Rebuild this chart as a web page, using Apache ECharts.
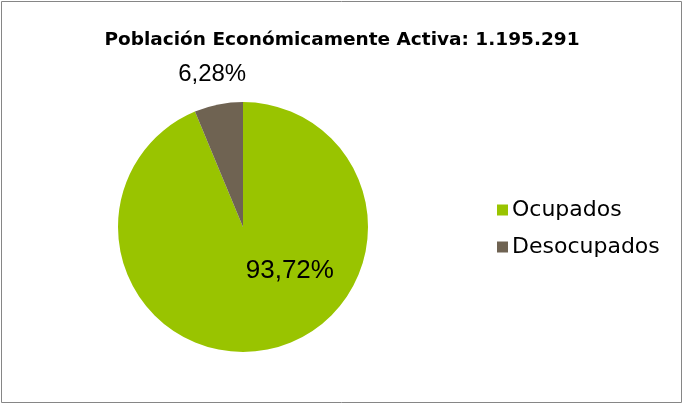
<!DOCTYPE html>
<html><head><meta charset="utf-8">
<script src="https://cdn.jsdelivr.net/npm/echarts@6/dist/echarts.min.js"></script>
<style>html,body{margin:0;padding:0;background:#fff}#c{width:684px;height:405px}</style>
</head><body><div id="c"></div>
<script>
const titleText = 'Población Económicamente Activa: 1.195.291';
const categories = ['Ocupados', 'Desocupados'];
const values = [93.72, 6.28];
const labels = ['93,72%', '6,28%'];
const colors = ['#99C400', '#6F6352'];

const chart = echarts.init(document.getElementById('c'), null, {renderer: 'canvas'});
chart.setOption({
  animation: false,
  graphic: [{type: 'rect', shape: {x: 1.5, y: 1.5, width: 680, height: 401}, style: {fill: 'none', stroke: '#868686', lineWidth: 1}, silent: true}],
  title: {
    text: titleText, left: 'center', top: 26,
    textStyle: {fontFamily: 'DejaVu Sans', fontWeight: 'bold', fontSize: 18.5, color: '#000'}
  },
  legend: {
    orient: 'vertical', left: 492, top: 194, itemGap: 15,
    itemWidth: 11, itemHeight: 11, icon: 'rect',
    textStyle: {fontFamily: 'DejaVu Sans', fontSize: 22, color: '#000', padding: [0, 0, 0, -1]},
    data: categories
  },
  series: [{
    type: 'pie', center: [243, 227], radius: 125, startAngle: 90, clockwise: true,
    labelLine: {show: false},
    data: categories.map((c, i) => ({
      name: c, value: values[i],
      itemStyle: {color: colors[i]},
      label: {
        show: true, position: 'inside', formatter: labels[i],
        fontFamily: 'Liberation Sans', fontSize: i === 0 ? 26 : 24, color: '#000',
        offset: i === 0 ? [34, -20] : [-18, -88]
      }
    }))
  }]
});
</script></body></html>
